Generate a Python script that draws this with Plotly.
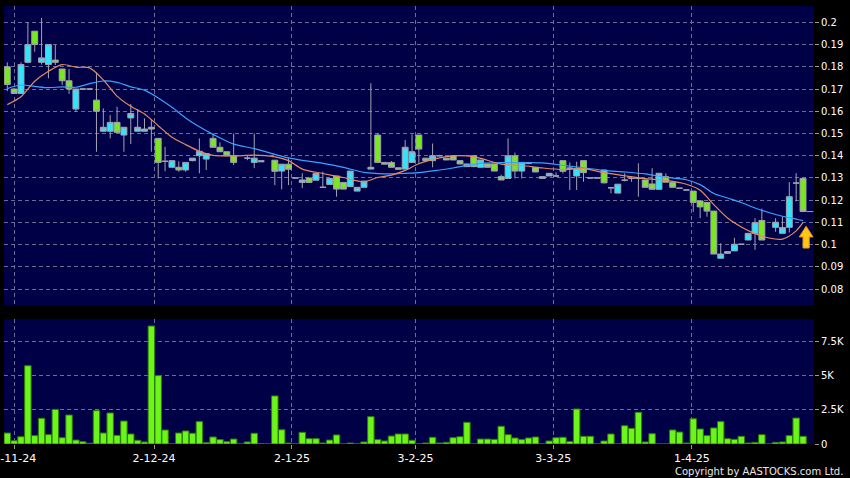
import plotly.graph_objects as go

# ---------------- data ----------------
N = None
opens = [0.180, 0.170, 0.168, 0.182, 0.196, 0.182, 0.181, 0.183, 0.179, 0.1737,
         0.161, 0.170, 0.170, 0.165, 0.151, 0.151, 0.155, 0.1493, 0.157, 0.151,
         0.151, 0.1528, 0.1478, 0.1375, 0.1348, 0.1348, 0.1336, 0.1378, 0.140, 0.1385,
         0.1478, 0.1438, 0.1418, 0.140, N, 0.1389, 0.137, 0.1378, N, 0.138,
         0.1331, 0.1362, 0.130, 0.128, 0.130, 0.129, 0.1258, 0.1271, 0.1309, 0.128,
         0.1261, 0.1241, 0.1258, 0.134, 0.1493, 0.137, 0.137, 0.1346, 0.134, 0.137,
         0.1493, 0.1389, 0.1378, 0.140, 0.1389, 0.140, 0.1378, 0.1351, 0.140, 0.1348,
         0.1363, 0.1363, 0.1306, 0.1298, 0.140, 0.1331, 0.1366, 0.1348, 0.1298, 0.1309,
         0.1309, 0.1378, 0.1344, 0.1309, 0.1378, 0.130, 0.130, 0.1336, 0.1256, 0.1232,
         0.129, 0.1298, 0.1298, 0.1291, 0.1273, 0.1249, 0.1306, 0.1281, 0.1254, 0.1246,
         0.1241, 0.1197, 0.119, 0.1151, 0.0939, 0.0961, 0.0972, 0.1002, 0.1021, 0.1051,
         0.1109, N, 0.1078, 0.1051, 0.1078, 0.1277, 0.1298]
highs = [0.182, 0.1705, 0.182, 0.200, 0.196, 0.202, 0.190, 0.190, 0.179, 0.179,
         0.170, 0.170, 0.170, 0.1773, 0.1613, 0.1583, 0.162, 0.1528, 0.1633, 0.161,
         0.1568, 0.156, 0.1478, 0.144, 0.1378, 0.1375, 0.137, 0.139, 0.1478, 0.141,
         0.150, 0.146, 0.1418, 0.150, N, 0.140, 0.150, 0.1378, N, 0.138,
         0.1362, 0.1389, 0.130, 0.1321, 0.130, 0.132, 0.1328, 0.1298, 0.1309, 0.128,
         0.1331, 0.1258, 0.1286, 0.1726, 0.150, 0.137, 0.1376, 0.1346, 0.1471, 0.1496,
         0.1493, 0.1389, 0.1455, 0.1404, 0.1389, 0.140, 0.1378, 0.1363, 0.140, 0.1381,
         0.1363, 0.1363, 0.1315, 0.1478, 0.1414, 0.1372, 0.1372, 0.1348, 0.1306, 0.1321,
         0.1325, 0.1378, 0.137, 0.1373, 0.1378, 0.130, 0.130, 0.1336, 0.1256, 0.1272,
         0.1321, 0.1306, 0.1366, 0.1291, 0.1344, 0.1321, 0.1321, 0.1281, 0.1254, 0.1246,
         0.1241, 0.1197, 0.119, 0.1151, 0.1006, 0.0969, 0.1031, 0.1002, 0.1051, 0.1119,
         0.1162, N, 0.1119, 0.1126, 0.1281, 0.1322, 0.1298]
lows = [0.169, 0.1678, 0.168, 0.1816, 0.1868, 0.181, 0.1748, 0.1808, 0.1718, 0.1678,
        0.1598, 0.170, 0.170, 0.1418, 0.1508, 0.1478, 0.1504, 0.1418, 0.1453, 0.151,
        0.151, 0.1418, 0.1298, 0.133, 0.1348, 0.1328, 0.1328, 0.1375, 0.1321, 0.1336,
        0.1438, 0.1418, 0.140, 0.1358, N, 0.138, 0.1344, 0.1373, N, 0.1268,
        0.1249, 0.1268, 0.130, 0.1254, 0.128, 0.129, 0.1258, 0.1271, 0.1216, 0.125,
        0.1261, 0.1241, 0.1258, 0.134, 0.137, 0.1362, 0.1348, 0.1339, 0.134, 0.1369,
        0.1366, 0.1378, 0.1348, 0.1398, 0.1381, 0.1381, 0.1363, 0.1351, 0.1351, 0.1348,
        0.1348, 0.1331, 0.1291, 0.1298, 0.1298, 0.1298, 0.1362, 0.1327, 0.1298, 0.1309,
        0.1305, 0.1321, 0.1246, 0.1246, 0.1283, 0.130, 0.130, 0.1276, 0.1231, 0.1232,
        0.1285, 0.1283, 0.1216, 0.1258, 0.1249, 0.1249, 0.1281, 0.1258, 0.1254, 0.1246,
        0.1148, 0.1119, 0.1126, 0.0958, 0.0939, 0.0961, 0.0972, 0.1002, 0.1021, 0.0977,
        0.1021, N, 0.1058, 0.1051, 0.1055, 0.1195, 0.1149]
closes = [0.172, 0.168, 0.181, 0.190, 0.190, 0.184, 0.190, 0.182, 0.1737, 0.170,
          0.170, 0.170, 0.170, 0.160, 0.1528, 0.155, 0.1505, 0.1528, 0.159, 0.1528,
          0.152, 0.152, 0.137, 0.1375, 0.1378, 0.1336, 0.137, 0.1389, 0.142, 0.141,
          0.1438, 0.1418, 0.140, 0.137, N, 0.1389, 0.1389, 0.1373, N, 0.133,
          0.1362, 0.1339, 0.130, 0.1291, 0.128, 0.132, 0.1258, 0.1298, 0.125, 0.125,
          0.1331, 0.1258, 0.1286, 0.1348, 0.137, 0.1362, 0.1348, 0.1339, 0.1438, 0.1418,
          0.143, 0.1378, 0.140, 0.140, 0.1381, 0.1381, 0.1363, 0.1363, 0.1351, 0.1381,
          0.1348, 0.1331, 0.1291, 0.140, 0.1331, 0.137, 0.1366, 0.1327, 0.1306, 0.1321,
          0.1309, 0.133, 0.1344, 0.1344, 0.1324, 0.130, 0.130, 0.1278, 0.1256, 0.1272,
          0.129, 0.1298, 0.1298, 0.1258, 0.1249, 0.1321, 0.1281, 0.1258, 0.1254, 0.1246,
          0.119, 0.117, 0.1151, 0.0958, 0.0958, 0.0969, 0.1002, 0.1002, 0.1051, 0.1099,
          0.1021, N, 0.1101, 0.1077, 0.1216, 0.1277, 0.1149]
volumes_k = [0.80, 0.24, 0.53, 5.70, 0.61, 1.87, 0.68, 2.52, 0.46, 2.11,
             0.29, 0.17, 0.05, 2.43, 0.80, 2.26, 0.63, 1.67, 0.73, 0.27,
             0.15, 8.59, 4.98, 1.02, 0.0, 0.80, 0.95, 0.78, 1.63, 0.10,
             0.51, 0.32, 0.17, 0.36, 0.0, 0.15, 0.78, 0.02, 0.0, 3.50,
             1.04, 0.07, 0.0, 0.85, 0.39, 0.39, 0.07, 0.29, 0.66, 0.0,
             0.07, 0.0, 0.15, 1.99, 0.32, 0.22, 0.58, 0.73, 0.73, 0.27,
             0.0, 0.07, 0.49, 0.07, 0.12, 0.46, 0.53, 1.58, 0.0, 0.36,
             0.36, 0.34, 1.29, 0.68, 0.44, 0.32, 0.44, 0.51, 0.0, 0.22,
             0.46, 0.49, 0.19, 2.55, 0.56, 0.56, 0.0, 0.22, 0.73, 0.0,
             1.33, 1.14, 2.31, 0.15, 0.75, 0.0, 0.0, 1.02, 0.87, 0.07,
             1.84, 1.09, 0.61, 1.17, 1.63, 0.39, 0.34, 0.56, 0.07, 0.12,
             0.68, 0.0, 0.12, 0.15, 0.61, 1.89, 0.56]

# moving averages, sampled at bar positions
ma_idx = [0, 2, 4, 6, 8, 10, 12, 14, 16, 18, 20, 22, 24, 26, 28, 30, 33, 36, 39, 41,
          43, 46, 49, 52, 54, 56, 58, 60, 63, 65, 67, 69, 72, 75, 78, 81, 84, 87, 90, 93,
          96, 99, 101, 103, 105, 107, 109, 111, 113, 115, 116]
ma_short = [0.163, 0.1665, 0.1735, 0.178, 0.181, 0.1798, 0.1795, 0.1741, 0.1668, 0.1622,
            0.1588, 0.1535, 0.1483, 0.145, 0.142, 0.1402, 0.1399, 0.1403, 0.1395, 0.1378,
            0.134, 0.132, 0.1302, 0.1283, 0.1302, 0.1313, 0.1334, 0.1364, 0.139, 0.1399,
            0.1399, 0.1388, 0.1362, 0.1356, 0.1345, 0.1338, 0.1342, 0.1324, 0.131, 0.1297,
            0.1289, 0.1272, 0.1245, 0.118, 0.112, 0.108, 0.105, 0.103, 0.1025, 0.1062, 0.110]
ma_long = [0.1702, 0.1718, 0.1712, 0.1706, 0.171, 0.1708, 0.1724, 0.1736, 0.173, 0.171,
           0.1695, 0.166, 0.1618, 0.157, 0.153, 0.1496, 0.1452, 0.1432, 0.1406, 0.139,
           0.1379, 0.1366, 0.1348, 0.1325, 0.132, 0.1318, 0.1321, 0.1324, 0.1336, 0.1345,
           0.1357, 0.1366, 0.1369, 0.1369, 0.1368, 0.1357, 0.1346, 0.1334, 0.1327, 0.1318,
           0.1303, 0.1292, 0.127, 0.123, 0.121, 0.119, 0.1165, 0.1145, 0.1128, 0.1115, 0.1108]

tick_pos = [1.1, 21.4, 41.5, 59.5, 79.6, 99.8]
tick_labels = ["1-11-24", "2-12-24", "2-1-25", "3-2-25", "3-3-25", "1-4-25"]
price_ticks = [0.08, 0.09, 0.10, 0.11, 0.12, 0.13, 0.14, 0.15, 0.16, 0.17, 0.18, 0.19, 0.20]
vol_ticks = [0, 2.5, 5, 7.5]
vol_tick_labels = ["0", "2.5K", "5K", "7.5K"]

idx = list(range(len(opens)))

# ---------------- style ----------------
BG = "#000000"
PLOT_BG = "#000046"
GRID = "#6c6c94"
DASH = "4px,3px"
FONT = "DejaVu Sans"
UP = "#30e4fa"
DOWN = "#7ae81e"
WICK = "#a3a3b3"

fig = go.Figure()

fig.add_trace(go.Candlestick(
    x=idx, open=opens, high=highs, low=lows, close=closes,
    increasing=dict(line=dict(color=WICK, width=1), fillcolor=UP),
    decreasing=dict(line=dict(color=WICK, width=1), fillcolor=DOWN),
    whiskerwidth=0, xaxis="x", yaxis="y", showlegend=False, hoverinfo="skip"))

fig.add_trace(go.Scatter(x=ma_idx, y=ma_long, mode="lines",
                         line=dict(color="#3aa2ff", width=1.2, shape="spline", smoothing=0.8),
                         xaxis="x", yaxis="y", showlegend=False, hoverinfo="skip"))
fig.add_trace(go.Scatter(x=ma_idx, y=ma_short, mode="lines",
                         line=dict(color="#e48a62", width=1.2, shape="spline", smoothing=0.8),
                         xaxis="x", yaxis="y", showlegend=False, hoverinfo="skip"))

# last close marker
last = len(closes) - 1
fig.add_trace(go.Scatter(x=[last + 0.5, last + 1.5], y=[closes[last], closes[last]], mode="lines",
                         line=dict(color=WICK, width=1), xaxis="x", yaxis="y",
                         showlegend=False, hoverinfo="skip"))

fig.add_trace(go.Bar(x=idx, y=volumes_k, marker=dict(color="#6cf51a", line=dict(color="#2d7d05", width=1)),
                     xaxis="x2", yaxis="y2", showlegend=False, hoverinfo="skip"))

# up arrow
ax0 = last + 0.45
arrow_path = (f"M {ax0} 0.1083 L {ax0 - 1.0} 0.1035 L {ax0 - 0.45} 0.1035 L {ax0 - 0.45} 0.0985 "
              f"L {ax0 + 0.45} 0.0985 L {ax0 + 0.45} 0.1035 L {ax0 + 1.0} 0.1035 Z")
fig.add_shape(type="path", path=arrow_path, xref="x", yref="y",
              fillcolor="#ffc61a", line=dict(color="#e89a00", width=1))

xr = [-0.48, 117.6]
common_x = dict(range=xr, showgrid=True, gridcolor=GRID, griddash=DASH, gridwidth=1,
                zeroline=False, showline=False, tickvals=tick_pos, ticktext=tick_labels,
                fixedrange=True)

fig.update_layout(
    width=850, height=478,
    paper_bgcolor=BG, plot_bgcolor=PLOT_BG,
    margin=dict(l=4, r=36, t=6, b=34, autoexpand=False),
    font=dict(family=FONT, color="#ffffff", size=10),
    boxgap=0.14, boxgroupgap=0, bargap=0.06,
    xaxis=dict(domain=[0, 1], anchor="y", showticklabels=False, ticks="",
               rangeslider=dict(visible=False), **common_x),
    xaxis2=dict(domain=[0, 1], anchor="y2", showticklabels=True, ticks="outside", ticklen=4,
                tickcolor="#9a9a9a", tickfont=dict(size=11, color="#ffffff", family=FONT),
                ticklabeloverflow="allow", **common_x),
    yaxis=dict(domain=[0.3151, 1], anchor="x", side="right", range=[0.07244, 0.20733],
               tickvals=price_ticks, ticktext=[f"{v:g}" for v in price_ticks],
               showgrid=True, gridcolor=GRID, griddash=DASH, zeroline=False, showline=False,
               ticks="outside", ticklen=4, tickcolor="#9a9a9a",
               tickfont=dict(size=10, color="#ffffff", family=FONT)),
    yaxis2=dict(domain=[0, 0.2847], anchor="x2", side="right", range=[0, 9.08],
                tickvals=vol_ticks, ticktext=vol_tick_labels,
                showgrid=True, gridcolor=GRID, griddash=DASH, zeroline=False, showline=False,
                ticks="outside", ticklen=4, tickcolor="#9a9a9a",
                tickfont=dict(size=10, color="#ffffff", family=FONT)),
    annotations=[dict(text="Copyright by AASTOCKS.com Ltd.", xref="paper", yref="paper",
                      x=1.038, y=-0.063, xanchor="right", yanchor="middle", showarrow=False,
                      font=dict(size=10, color="#e8e8e8", family=FONT))],
)

fig.write_html("out.html", config={"displayModeBar": False},
               post_script="document.body.style.margin='0';document.body.style.background='#000';")
